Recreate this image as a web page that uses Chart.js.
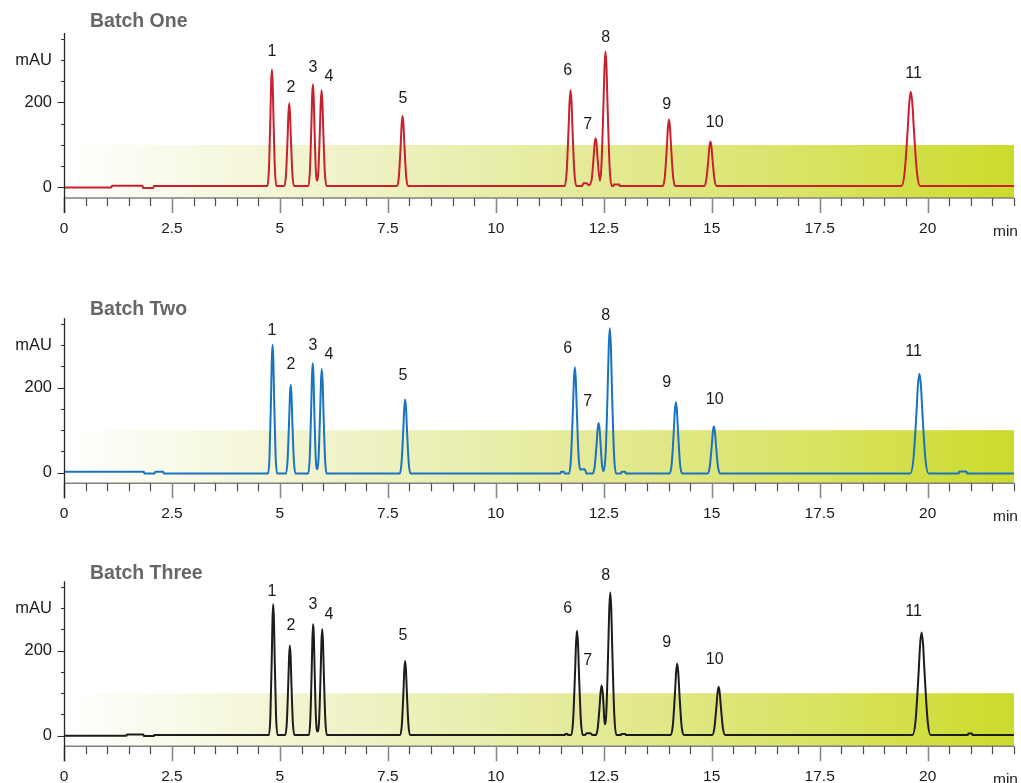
<!DOCTYPE html>
<html>
<head>
<meta charset="utf-8">
<title>Chromatograms – three batches</title>
<script src="https://cdn.jsdelivr.net/npm/chart.js@4.4.1/dist/chart.umd.min.js"></script>
<style>
  html, body { margin: 0; padding: 0; background: #ffffff; }
  #wrap { position: relative; width: 1021px; height: 783px; overflow: hidden; }
  .panel { position: absolute; left: 0; width: 1021px; }
  .panel canvas { display: block; }
</style>
</head>
<body>
<div id="wrap">
  <div class="panel" style="top:0px;height:250px"><canvas id="batch1" width="1021" height="250"></canvas></div>
  <div class="panel" style="top:285px;height:250px"><canvas id="batch2" width="1021" height="250"></canvas></div>
  <div class="panel" style="top:548px;height:235px"><canvas id="batch3" width="1021" height="235"></canvas></div>
</div>
<script>
// ---------------------------------------------------------------------------
// Data: retention time (min) and detector signal (mAU) for each batch
// ---------------------------------------------------------------------------
const batchTitles = ['Batch One', 'Batch Two', 'Batch Three'];
const peakNumbers = ['1', '2', '3', '4', '5', '6', '7', '8', '9', '10', '11'];
const timeTickLabels = ['0', '2.5', '5', '7.5', '10', '12.5', '15', '17.5', '20'];
const signalTickLabels = { 0: '0', 200: '200', 300: 'mAU' };

const batchOneTime = [
  0, 1.1, 1.11, 1.82, 1.83, 2.07, 2.08,
  4.71, 4.745, 4.78, 4.797, 4.815, 4.833, 4.85, 4.885, 4.92,
  5.105, 5.142, 5.179, 5.198, 5.216, 5.234, 5.253, 5.29, 5.327,
  5.659, 5.694, 5.729, 5.746, 5.764, 5.782, 5.799, 5.834, 5.865, 5.889, 5.927, 5.946, 5.965, 5.984, 6.003, 6.041, 6.079,
  7.714, 7.756, 7.798, 7.819, 7.84, 7.861, 7.882, 7.924, 7.966,
  11.595, 11.64, 11.685, 11.708, 11.73, 11.753, 11.775, 11.82, 11.865,
  12.0, 12.03, 12.11, 12.15,
  12.22, 12.265, 12.288, 12.31, 12.333, 12.355, 12.41, 12.444, 12.492, 12.516, 12.54, 12.564, 12.588, 12.636, 12.684,
  12.72, 12.73, 12.86, 12.87,
  13.866, 13.914, 13.962, 13.986, 14.01, 14.034, 14.058, 14.106, 14.154,
  14.826, 14.874, 14.922, 14.946, 14.97, 14.994, 15.018, 15.066, 15.114,
  19.394, 19.466, 19.538, 19.574, 19.61, 19.646, 19.682, 19.754, 19.826,
  22
];
const batchOneSignal = [
  0, 0, 4, 4, -1, -1, 3.5,
  3.5, 42, 168, 245, 278, 245, 168, 42, 3.5,
  3.5, 31, 120, 175, 198, 175, 120, 31, 3.5,
  3.5, 37, 147, 214, 243, 214, 147, 37, 16, 35, 139, 202, 229, 202, 139, 35, 3.5,
  3.5, 26, 102, 148, 168, 148, 102, 26, 3.5,
  3.5, 35, 139, 202, 229, 202, 139, 35, 3.5,
  3.5, 10, 10, 5,
  19, 71, 103, 116, 103, 71, 16, 48, 193, 282, 320, 282, 193, 48, 3.5,
  3.5, 7, 7, 3.5,
  3.5, 25, 97, 141, 160, 141, 97, 25, 3.5,
  3.5, 18, 66, 95.5, 108, 95.5, 66, 18, 3.5,
  3.5, 34.5, 136, 198, 225, 198, 136, 34.5, 3.5,
  3.5
];

const batchTwoTime = [
  0, 1.85, 1.86, 2.1, 2.11, 2.3, 2.31,
  4.725, 4.76, 4.795, 4.812, 4.83, 4.848, 4.865, 4.9, 4.935,
  5.139, 5.176, 5.213, 5.232, 5.25, 5.269, 5.287, 5.324, 5.361,
  5.655, 5.69, 5.725, 5.743, 5.76, 5.778, 5.795, 5.83, 5.865, 5.894, 5.932, 5.951, 5.97, 5.989, 6.008, 6.046, 6.084,
  7.774, 7.816, 7.858, 7.879, 7.9, 7.921, 7.942, 7.984, 8.026,
  11.5, 11.51, 11.58, 11.59,
  11.695, 11.74, 11.785, 11.808, 11.83, 11.853, 11.875, 11.92, 11.96,
  11.99, 12.06, 12.1,
  12.245, 12.29, 12.335, 12.358, 12.38, 12.403, 12.425, 12.46, 12.495, 12.544, 12.592, 12.616, 12.64, 12.664, 12.688, 12.736, 12.784,
  12.9, 12.91, 13.0, 13.01,
  14.026, 14.074, 14.122, 14.146, 14.17, 14.194, 14.218, 14.266, 14.314,
  14.906, 14.954, 15.002, 15.026, 15.05, 15.074, 15.098, 15.146, 15.194,
  19.6, 19.67, 19.74, 19.775, 19.81, 19.845, 19.88, 19.95, 20.02,
  20.72, 20.73, 20.9, 20.91,
  22
];
const batchTwoSignal = [
  2, 2, -2, -2, 2, 2, -2,
  -2, 40, 180, 265, 301, 265, 180, 40, -2,
  -2, 27, 123, 182, 207, 182, 123, 27, -2,
  -2, 34, 154, 227, 258, 227, 154, 34, 8, 32, 146, 215, 244, 215, 146, 32, -2,
  -2, 22, 102, 151, 172, 151, 102, 22, -2,
  -2, 2, 2, -2,
  -2, 33, 148, 218, 248, 218, 148, 33, 7,
  8, 8, -2,
  -2, 15, 69, 103, 117, 103, 69, 18, 4, 46, 203, 299, 340, 299, 203, 46, -2,
  -2, 2, 2, -2,
  -2, 21.5, 99, 146, 166, 146, 99, 21.5, -2,
  -2, 13.5, 65, 96, 109, 96, 65, 13.5, -2,
  -2, 31, 139, 205, 233, 205, 139, 31, -2,
  -2, 3, 3, -2,
  -2
];

const batchThreeTime = [
  0, 1.45, 1.46, 1.84, 1.85, 2.08, 2.09,
  4.746, 4.779, 4.812, 4.828, 4.845, 4.862, 4.878, 4.911, 4.944,
  5.125, 5.16, 5.195, 5.213, 5.23, 5.248, 5.265, 5.3, 5.335,
  5.671, 5.704, 5.737, 5.754, 5.77, 5.787, 5.803, 5.836, 5.87, 5.908, 5.944, 5.962, 5.98, 5.998, 6.016, 6.052, 6.088,
  7.786, 7.824, 7.862, 7.881, 7.9, 7.919, 7.938, 7.976, 8.014,
  11.6, 11.61, 11.66, 11.67,
  11.745, 11.79, 11.835, 11.858, 11.88, 11.903, 11.925, 11.97, 12.015,
  12.06, 12.11, 12.19, 12.24,
  12.315, 12.36, 12.405, 12.428, 12.45, 12.473, 12.495, 12.52, 12.556, 12.603, 12.627, 12.65, 12.674, 12.697, 12.744, 12.791,
  12.9, 12.91, 13.0, 13.01,
  14.05, 14.1, 14.15, 14.175, 14.2, 14.225, 14.25, 14.3, 14.35,
  15.01, 15.06, 15.11, 15.135, 15.16, 15.185, 15.21, 15.26, 15.31,
  19.65, 19.72, 19.79, 19.825, 19.86, 19.895, 19.93, 20.0, 20.07,
  20.93, 20.94, 21.03, 21.04,
  22
];
const batchThreeSignal = [
  0, 0, 3, 3, -1, -1, 1.5,
  1.5, 44.5, 186, 272, 309, 272, 186, 44.5, 1.5,
  1.5, 31, 128, 187, 212, 187, 128, 31, 1.5,
  1.5, 38, 158, 232, 263, 232, 158, 38, 10, 36.5, 151, 221, 251, 221, 151, 36.5, 1.5,
  1.5, 26, 106, 155, 176, 155, 106, 26, 1.5,
  1.5, 4, 4, 1.5,
  1.5, 36, 149, 218, 247, 218, 149, 36, 1.5,
  1.5, 6, 6, 1.5,
  1.5, 18, 71.5, 104, 118, 104, 71.5, 27, 48.5, 203, 297, 337, 297, 203, 48.5, 1.5,
  1.5, 4, 4, 1.5,
  1.5, 25, 102, 149, 169, 149, 102, 25, 1.5,
  1.5, 17, 70, 101, 115, 101, 70, 17, 1.5,
  1.5, 35, 146, 214, 243, 214, 146, 35, 1.5,
  1.5, 5, 5, 1.5,
  1.5
];

// ---------------------------------------------------------------------------
// Layout and styling
// ---------------------------------------------------------------------------
const FONT = "'Liberation Sans', Arial, Helvetica, sans-serif";
Chart.defaults.font.family = FONT;

// where each peak number sits, in (min, mAU) of its own panel
const labelAnchorTime = [4.815, 5.255, 5.764, 6.134, 7.847, 11.667, 12.13, 12.546, 13.96, 15.07, 19.676];
const labelAnchorLevel = [
  [319, 236, 281, 260, 208, 274, 149, 352, 196, 152, 269],
  [334, 255, 299, 278, 229, 292, 168, 369, 212, 173, 285],
  [340, 260, 308, 286, 235, 300, 176, 376, 220, 178, 293]
];

const panels = [
  { id: 'batch1', time: batchOneTime, signal: batchOneSignal, color: '#c8202e',
    padTop: 34.5, xAxisHeight: 51.9, titleY: 21.7 },
  { id: 'batch2', time: batchTwoTime, signal: batchTwoSignal, color: '#1a72c2',
    padTop: 34.7, xAxisHeight: 51.7, titleY: 24.3 },
  { id: 'batch3', time: batchThreeTime, signal: batchThreeSignal, color: '#1c1c1c',
    padTop: 34.7, xAxisHeight: 36.7, titleY: 25.3 }
];

// shaded band from -25 to 100 mAU fading from white to lime
const bandPlugin = {
  id: 'limeBand',
  beforeDatasetsDraw(chart) {
    const { ctx, chartArea: a, scales: { x, y } } = chart;
    const top = y.getPixelForValue(100);
    const left = x.getPixelForValue(0) + 1;
    const right = x.getPixelForValue(22);
    const g = ctx.createLinearGradient(left, 0, right, 0);
    g.addColorStop(0, 'rgb(255,255,255)');
    g.addColorStop(0.25, 'rgb(242,244,207)');
    g.addColorStop(0.55, 'rgb(228,234,152)');
    g.addColorStop(0.8, 'rgb(216,227,96)');
    g.addColorStop(1, 'rgb(204,219,42)');
    ctx.save();
    ctx.fillStyle = g;
    ctx.fillRect(left, top, right - left, a.bottom - top);
    ctx.restore();
  }
};

// axis lines, tick marks, title, peak numbers and unit
const decorPlugin = {
  id: 'chromDecor',
  afterDraw(chart, args, o) {
    const { ctx, chartArea: a, scales: { x, y } } = chart;
    ctx.save();

    // x axis line and ticks (every 0.5 min, longer every 2.5 min)
    ctx.strokeStyle = '#808080';
    ctx.lineWidth = 1.5;
    ctx.beginPath();
    ctx.moveTo(a.left, a.bottom);
    ctx.lineTo(a.right, a.bottom);
    ctx.stroke();
    x.ticks.forEach(t => {
      const px = Math.round(x.getPixelForValue(t.value)) + 0.5;
      const major = Math.abs(t.value / 2.5 - Math.round(t.value / 2.5)) < 1e-6;
      ctx.strokeStyle = major ? '#8a8a8a' : '#4d4d4d';
      ctx.lineWidth = major ? 1.6 : 1.2;
      ctx.beginPath();
      ctx.moveTo(px, a.bottom);
      ctx.lineTo(px, a.bottom + (major ? 15 : 8));
      ctx.stroke();
    });

    // y axis line and ticks (every 50 mAU, longer at labelled values)
    const ax = Math.round(a.left) + 0.5;
    ctx.strokeStyle = '#262626';
    ctx.lineWidth = 1.3;
    ctx.beginPath();
    ctx.moveTo(ax, a.top - 1.5);
    ctx.lineTo(ax, a.bottom + 15);
    ctx.stroke();
    y.ticks.forEach(t => {
      if (t.value < 0 || t.value % 50 !== 0) return;
      const py = Math.round(y.getPixelForValue(t.value)) + 0.5;
      const long = t.value === 0 || t.value === 200;
      ctx.strokeStyle = '#333';
      ctx.lineWidth = 1.1;
      ctx.beginPath();
      ctx.moveTo(ax - (long ? 7 : 3.5), py);
      ctx.lineTo(ax, py);
      ctx.stroke();
    });

    // panel title
    ctx.fillStyle = '#666666';
    ctx.font = 'bold 19.5px ' + FONT;
    ctx.textAlign = 'left';
    ctx.textBaseline = 'middle';
    ctx.fillText(o.title, 90, o.titleY);

    // peak numbers
    ctx.fillStyle = '#1a1a1a';
    ctx.font = '16px ' + FONT;
    ctx.textAlign = 'center';
    ctx.textBaseline = 'middle';
    peakNumbers.forEach((n, i) => {
      ctx.fillText(n, x.getPixelForValue(labelAnchorTime[i]), y.getPixelForValue(o.levels[i]));
    });

    // time unit
    ctx.font = '15.5px ' + FONT;
    ctx.textAlign = 'center';
    ctx.textBaseline = 'alphabetic';
    ctx.fillText('min', 1005.5, a.bottom + 37.5);
    ctx.restore();
  }
};

panels.forEach((p, idx) => {
  new Chart(document.getElementById(p.id), {
    type: 'line',
    data: {
      datasets: [{
        data: p.time.map((t, i) => ({ x: t, y: p.signal[i] })),
        borderColor: p.color,
        borderWidth: 2,
        pointRadius: 0,
        fill: false,
        cubicInterpolationMode: 'monotone'
      }]
    },
    options: {
      responsive: false,
      animation: false,
      events: [],
      layout: { padding: { top: p.padTop, right: 7, left: 0, bottom: 0 } },
      plugins: {
        legend: { display: false },
        tooltip: { enabled: false },
        chromDecor: { title: batchTitles[idx], titleY: p.titleY, levels: labelAnchorLevel[idx] }
      },
      scales: {
        x: {
          type: 'linear',
          min: 0,
          max: 22,
          grid: { display: false, drawTicks: false },
          border: { display: false },
          afterFit(scale) {
            scale.height = p.xAxisHeight;
            scale.paddingLeft = 0;
            scale.paddingRight = 0;
          },
          ticks: {
            stepSize: 0.5,
            autoSkip: false,
            maxRotation: 0,
            padding: 21,
            color: '#1a1a1a',
            font: { size: 15.5 },
            callback(v) {
              const k = v / 2.5;
              return Math.abs(k - Math.round(k)) < 1e-6 ? timeTickLabels[Math.round(k)] : '';
            }
          }
        },
        y: {
          type: 'linear',
          min: -25,
          max: 360,
          grid: { display: false, drawTicks: false },
          border: { display: false },
          afterFit(scale) { scale.width = 64; },
          ticks: {
            stepSize: 50,
            includeBounds: false,
            autoSkip: false,
            padding: 12,
            color: '#1a1a1a',
            font: { size: 16.5 },
            callback(v) { return signalTickLabels[v] !== undefined ? signalTickLabels[v] : ''; }
          }
        }
      }
    },
    plugins: [bandPlugin, decorPlugin]
  });
});
</script>
</body>
</html>
